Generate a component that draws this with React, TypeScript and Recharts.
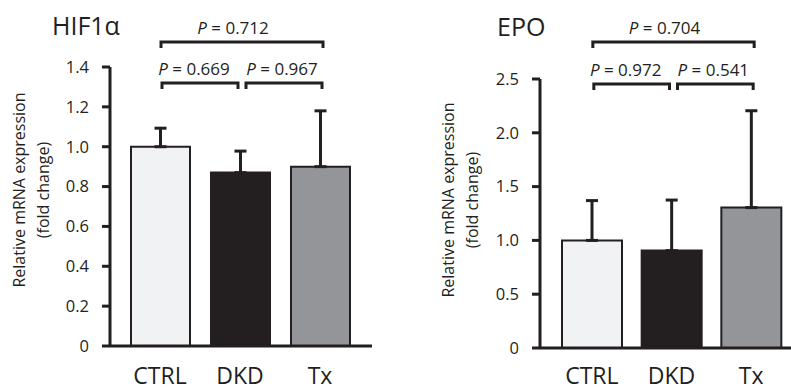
import { Bar, BarChart, Cell, ErrorBar, ReferenceLine, XAxis, YAxis } from "recharts";

const groups = ["CTRL", "DKD", "Tx"];
const groupFills = ["#f1f2f3", "#231f20", "#939598"];

// HIF1α
const hifMean = [1.0, 0.87, 0.9];
const hifSd = [0.093, 0.108, 0.28];
const hifTicks = [0, 0.2, 0.4, 0.6, 0.8, 1.0, 1.2, 1.4];
const hifPairs = [
    { from: "CTRL", to: "DKD", p: "0.669", level: 1.32 },
    { from: "DKD", to: "Tx", p: "0.967", level: 1.32 },
    { from: "CTRL", to: "Tx", p: "0.712", level: 1.525 },
];

// EPO
const epoMean = [1.0, 0.905, 1.305];
const epoSd = [0.37, 0.47, 0.9];
const epoTicks = [0, 0.5, 1.0, 1.5, 2.0, 2.5];
const epoPairs = [
    { from: "CTRL", to: "DKD", p: "0.972", level: 2.453 },
    { from: "DKD", to: "Tx", p: "0.541", level: 2.453 },
    { from: "CTRL", to: "Tx", p: "0.704", level: 2.844 },
];

const ink = "#231f20";
const font = "'Open Sans', sans-serif";

// pixel tweaks so the brackets sit like in the figure (left inset, right inset, text shift)
const bracketTweaks: Record<string, [number, number, number]> = {
    "CTRL-DKD": [2, -2, -6],
    "DKD-Tx": [6, 2, 2],
    "CTRL-Tx": [1, 3, -7],
};

const Bracket = (props: any) => {
    const { x1, y1, x2, pair } = props;
    const [dl, dr, tx] = bracketTweaks[`${pair.from}-${pair.to}`];
    return (
        <g>
            <path d={`M${x1 + dl},${y1 + 6} V${y1} H${x2 + dr} V${y1 + 6}`} fill="none" stroke={ink} strokeWidth={3} />
            <text x={(x1 + x2) / 2 + tx} y={y1 - 8} textAnchor="middle" fontSize={17} fontFamily={font} fill={ink}>
                <tspan fontStyle="italic">P</tspan> = {pair.p}
            </text>
        </g>
    );
};

const fmt = (v: number) => (v === 0 ? "0" : v.toFixed(1));

type PanelProps = {
    mean: number[];
    sd: number[];
    ticks: number[];
    pairs: typeof hifPairs;
    width: number;
    top: number;
    bottom: number;
    right: number;
    padL: number;
    padR: number;
    barSize: number;
    labelGap: number;
};

const Panel = ({ mean, sd, ticks, pairs, width, top, bottom, right, padL, padR, barSize, labelGap }: PanelProps) => {
    const data = groups.map((g, i) => ({ group: g, value: mean[i], err: [0, sd[i]] }));
    return (
        <BarChart width={width} height={390} data={data} margin={{ top, right, bottom: 0, left: 0 }}>
            <XAxis
                dataKey="group"
                height={bottom}
                padding={{ left: padL, right: padR }}
                axisLine={{ stroke: ink, strokeWidth: 3 }}
                tickLine={false}
                tickSize={0}
                tickMargin={labelGap}
                tick={{ fill: ink, fontSize: 23, fontFamily: font }}
            />
            <YAxis
                width={110}
                domain={[ticks[0], ticks[ticks.length - 1]]}
                ticks={ticks}
                tickFormatter={fmt}
                axisLine={{ stroke: ink, strokeWidth: 3 }}
                tickLine={{ stroke: ink, strokeWidth: 3 }}
                tickSize={8}
                tickMargin={13}
                tick={{ fill: ink, fontSize: 16.5, fontFamily: font }}
            />
            <Bar dataKey="value" barSize={barSize} stroke={ink} strokeWidth={2} isAnimationActive={false}>
                {data.map((d, i) => <Cell key={d.group} fill={groupFills[i]} />)}
                <ErrorBar dataKey="err" width={6} stroke={ink} strokeWidth={3} direction="y" />
            </Bar>
            {pairs.map((pair) => (
                <ReferenceLine
                    key={pair.from + pair.to}
                    segment={[{ x: pair.from, y: pair.level }, { x: pair.to, y: pair.level }]}
                    ifOverflow="visible"
                    shape={(p: any) => <Bracket {...p} pair={pair} />}
                />
            ))}
        </BarChart>
    );
};

const YLabel = ({ cx, cy, gap }: { cx: number; cy: number; gap: number }) => (
    <g transform={`translate(${cx},${cy}) rotate(-90)`}>
        <text x={0} y={-gap / 2 + 5} textAnchor="middle" fontFamily={font} fontSize={16} fill={ink}>Relative mRNA expression</text>
        <text x={0} y={gap / 2 + 5} textAnchor="middle" fontFamily={font} fontSize={16} fill={ink}>(fold change)</text>
    </g>
);

export default function App() {
    return (
        <div style={{ position: "absolute", left: 0, top: 0, width: 791, height: 390, background: "#fff", overflow: "hidden" }}>
            <div style={{ position: "absolute", left: 0, top: 0 }}>
                <Panel mean={hifMean} sd={hifSd} ticks={hifTicks} pairs={hifPairs} width={395} top={67} bottom={44} right={23} padL={10} padR={12} barSize={59} labelGap={22} />
            </div>
            <div style={{ position: "absolute", left: 430, top: 0 }}>
                <Panel mean={epoMean} sd={epoSd} ticks={epoTicks} pairs={epoPairs} width={361} top={79} bottom={42} right={0} padL={12} padR={0} barSize={60} labelGap={20} />
            </div>
            <svg width={791} height={390} style={{ position: "absolute", left: 0, top: 0, pointerEvents: "none" }}>
                <text x={52} y={35} fontFamily={font} fontSize={25} fill={ink}>HIF1α</text>
                <text x={497} y={36} fontFamily={font} fontSize={25} fill={ink}>EPO</text>
                <YLabel cx={32} cy={190} gap={24} />
                <YLabel cx={461} cy={200} gap={24} />
            </svg>
        </div>
    );
}
